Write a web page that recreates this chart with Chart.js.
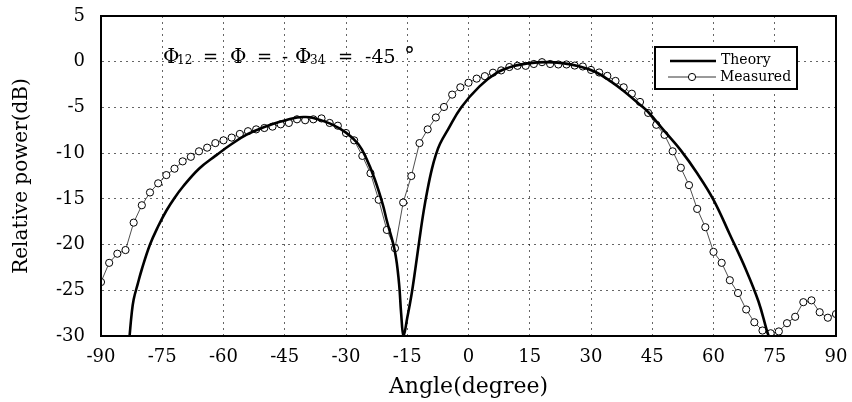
<!DOCTYPE html>
<html>
<head>
<meta charset="utf-8">
<script src="https://cdn.jsdelivr.net/npm/chart.js@4.4.1/dist/chart.umd.min.js"></script>
<style>
  html, body { margin: 0; padding: 0; background: #fff; }
  #wrap { width: 852px; height: 402px; }
</style>
</head>
<body>
<div id="wrap"><canvas id="main-chart" width="852" height="402"></canvas></div>
<script>
// tick values
const xTickValues = [-90, -75, -60, -45, -30, -15, 0, 15, 30, 45, 60, 75, 90];
const yTickValues = [-30, -25, -20, -15, -10, -5, 0, 5];

// Theory curve
const theoryAngle = [-83, -82.5, -82, -81, -80, -78, -76, -74, -72, -70, -66, -62, -58, -54, -50, -46, -42, -40, -38, -34, -30,
  -27, -25, -23, -21, -20, -18, -17, -16.5, -15.9, -15, -14, -13, -12, -11, -10, -9, -8, -7, -5, -1.8,
  2.7, 6.8, 10.9, 15, 19, 23, 27, 31, 35, 38, 42, 44, 48, 52, 56, 60, 64, 68, 71, 73, 73.5];
const theoryDb = [-30, -27.6, -26.0, -24.3, -22.7, -20.0, -18.0, -16.3, -14.9, -13.7, -11.7, -10.3, -9.0, -7.9, -7.15, -6.55, -6.1, -6.05, -6.15, -6.75, -7.75,
  -9.0, -10.6, -12.8, -15.6, -17.4, -20.8, -24.3, -27.5, -30, -28.0, -25.6, -22.6, -19.4, -16.4, -13.9, -11.8, -10.2, -9.0, -7.4, -5.0,
  -2.7, -1.25, -0.5, -0.15, -0.05, -0.15, -0.5, -1.1, -2.2, -3.2, -4.7, -5.5, -7.6, -9.7, -12.2, -15.1, -18.9, -22.8, -26.2, -29.3, -30];

// Measured points, every 2 degrees
const measuredAngle = [-90, -88, -86, -84, -82, -80, -78, -76, -74, -72, -70, -68, -66, -64, -62, -60, -58, -56, -54, -52,
  -50, -48, -46, -44, -42, -40, -38, -36, -34, -32, -30, -28, -26, -24, -22, -20, -18, -16, -14, -12,
  -10, -8, -6, -4, -2, 0, 2, 4, 6, 8, 10, 12, 14, 16, 18, 20, 22, 24, 26, 28,
  30, 32, 34, 36, 38, 40, 42, 44, 46, 48, 50, 52, 54, 56, 58, 60, 62, 64, 66, 68,
  70, 72, 74, 76, 78, 80, 82, 84, 86, 88, 90];
const measuredDb = [-24.1, -22.0, -21.0, -20.6, -17.6, -15.7, -14.3, -13.3, -12.4, -11.7, -10.9, -10.4, -9.8, -9.4, -8.9, -8.6, -8.3, -7.9, -7.6, -7.4,
  -7.25, -7.1, -6.85, -6.7, -6.3, -6.4, -6.3, -6.2, -6.7, -7.0, -7.8, -8.6, -10.3, -12.2, -15.1, -18.4, -20.4, -15.4, -12.5, -8.9,
  -7.4, -6.1, -4.95, -3.6, -2.8, -2.3, -1.85, -1.58, -1.2, -0.95, -0.58, -0.45, -0.45, -0.25, -0.05, -0.25, -0.3, -0.3, -0.42, -0.52,
  -0.9, -1.18, -1.55, -2.1, -2.8, -3.5, -4.4, -5.6, -6.9, -8.0, -9.8, -11.6, -13.5, -16.1, -18.1, -20.8, -22.0, -23.9, -25.3, -27.1,
  -28.5, -29.4, -29.7, -29.5, -28.6, -27.9, -26.3, -26.1, -27.4, -28.0, -27.6];

const SERIF = '"DejaVu Serif", "Liberation Serif", serif';

// frame, phase annotation and boxed legend
const framePlugin = {
  id: 'frame',
  afterDraw(ch) {
    const {ctx, chartArea: {left, right, top, bottom}} = ch;
    ctx.save();
    ctx.strokeStyle = '#000'; ctx.lineWidth = 2;
    ctx.strokeRect(left, top, right - left, bottom - top);

    // Φ12 = Φ = -Φ34 = -45°
    ctx.fillStyle = '#000';
    ctx.textAlign = 'left'; ctx.textBaseline = 'alphabetic';
    const base = top + 47;
    const parts = [['Φ', 163, 20, 0], ['12', 177, 12, 1], ['=', 203, 18, 0], ['Φ', 230, 20, 0], ['=', 257, 18, 0],
                   ['-', 282, 18, 0], ['Φ', 295, 20, 0], ['34', 310, 12, 1], ['=', 338, 18, 0], ['-45', 365, 19, 0], ['°', 404, 22, 0]];
    parts.forEach(([t, x, s, dy]) => {
      ctx.font = `${s}px ${SERIF}`;
      ctx.fillText(t, x, base + dy);
    });

    // legend
    const lx = 655, ly = 47, lw = 142, lh = 42;
    ctx.fillStyle = '#fff'; ctx.fillRect(lx, ly, lw, lh);
    ctx.lineWidth = 2; ctx.strokeStyle = '#000';
    ctx.strokeRect(lx, ly, lw, lh);
    ctx.lineWidth = 2.5;
    ctx.beginPath(); ctx.moveTo(lx + 15, ly + 14); ctx.lineTo(lx + 61, ly + 14); ctx.stroke();
    ctx.lineWidth = 0.8;
    ctx.beginPath(); ctx.moveTo(lx + 13, ly + 30); ctx.lineTo(lx + 61, ly + 30); ctx.stroke();
    ctx.beginPath(); ctx.arc(lx + 37, ly + 30, 3.6, 0, Math.PI * 2);
    ctx.fillStyle = '#fff'; ctx.fill(); ctx.lineWidth = 1; ctx.stroke();
    ctx.fillStyle = '#000';
    ctx.font = `14px ${SERIF}`;
    ctx.textBaseline = 'middle';
    ctx.fillText('Theory', lx + 66, ly + 13);
    ctx.fillText('Measured', lx + 65, ly + 30);
    ctx.restore();
  }
};

const borderOpts = { color: '#000', width: 2, dash: [2, 4] };
const tickFont = { family: SERIF, size: 18 };

new Chart(document.getElementById('main-chart'), {
  type: 'line',
  data: {
    datasets: [
      {
        label: 'Theory',
        data: theoryAngle.map((a, i) => ({x: a, y: theoryDb[i]})),
        borderColor: '#000',
        borderWidth: 2.6,
        pointRadius: 0,
        tension: 0.4,
        order: 1,
      },
      {
        label: 'Measured',
        data: measuredAngle.map((a, i) => ({x: a, y: measuredDb[i]})),
        borderColor: '#222',
        borderWidth: 0.8,
        pointRadius: 3.6,
        pointBackgroundColor: '#fff',
        pointBorderColor: '#000',
        pointBorderWidth: 1,
        order: 2,
      }
    ]
  },
  options: {
    responsive: false,
    animation: false,
    layout: { padding: { top: 16, right: 16, left: 0, bottom: 0 } },
    plugins: { legend: { display: false }, tooltip: { enabled: false } },
    scales: {
      x: {
        type: 'linear', min: -90, max: 90,
        afterBuildTicks: s => { s.ticks = xTickValues.map(v => ({value: v})); },
        afterFit: s => { s.height = 66; },
        ticks: { color: '#000', font: tickFont, padding: 2, maxRotation: 0, autoSkip: false },
        grid: { color: 'rgba(0,0,0,0.6)', lineWidth: 1, drawTicks: true, tickLength: 9, tickColor: 'rgba(0,0,0,0)' },
        border: borderOpts,
        title: { display: true, text: 'Angle(degree)', color: '#000', font: { family: SERIF, size: 22 }, padding: { top: 0, bottom: 2 } }
      },
      y: {
        type: 'linear', min: -30, max: 5,
        afterBuildTicks: s => { s.ticks = yTickValues.map(v => ({value: v})); },
        afterFit: s => { s.width = 101; },
        ticks: { color: '#000', font: tickFont, padding: 2, autoSkip: false },
        grid: { color: 'rgba(0,0,0,0.6)', lineWidth: 1, drawTicks: true, tickLength: 14, tickColor: 'rgba(0,0,0,0)' },
        border: borderOpts,
        title: { display: true, text: 'Relative power(dB)', color: '#000', font: { family: SERIF, size: 20 }, padding: { top: 10, bottom: 0 } }
      }
    }
  },
  plugins: [framePlugin]
});
</script>
</body>
</html>
